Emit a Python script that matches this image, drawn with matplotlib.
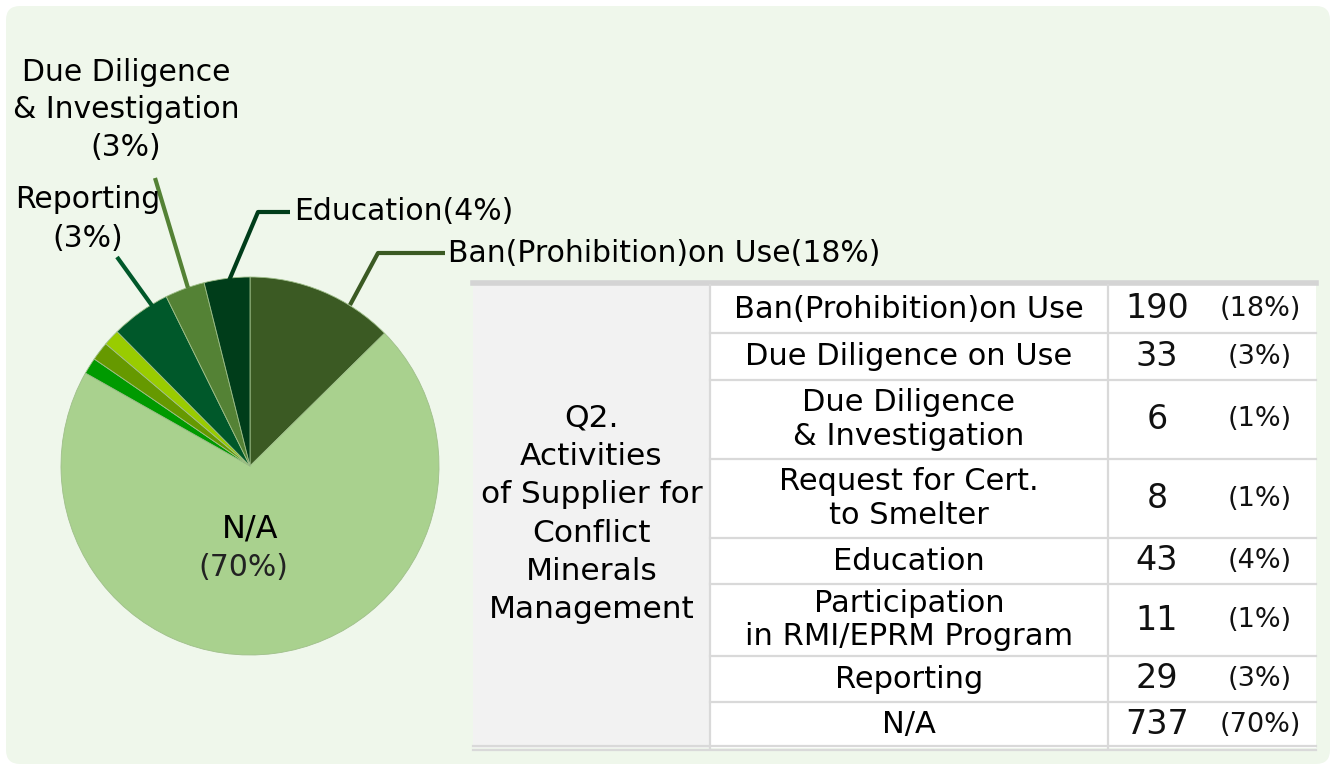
import matplotlib
matplotlib.use("Agg")
import matplotlib.pyplot as plt
from matplotlib.patches import FancyBboxPatch, Rectangle

plt.rcParams['font.family'] = ['DejaVu Sans']

# pie slices (clockwise from 12 o'clock)
pie_names = ["Ban", "N/A", "s1", "s2", "s3", "Reporting", "DD&I", "Education"]
pie_values = [12.6, 70.5, 1.4, 1.6, 1.4, 5.1, 3.4, 3.9]
pie_colors = ["#3b5a23", "#a9d18e", "#009a00", "#669900", "#99cc00",
              "#00582a", "#548235", "#003d1a"]

# table
table_items = ["Ban(Prohibition)on Use", "Due Diligence on Use",
               "Due Diligence\n& Investigation", "Request for Cert.\nto Smelter",
               "Education", "Participation\nin RMI/EPRM Program",
               "Reporting", "N/A"]
table_counts = [190, 33, 6, 8, 43, 11, 29, 737]
table_pcts = ["(18%)", "(3%)", "(1%)", "(1%)", "(4%)", "(1%)", "(3%)", "(70%)"]
question = "Q2.\nActivities\nof Supplier for\nConflict\nMinerals\nManagement"

W, H = 1335, 767
fig = plt.figure(figsize=(W / 100, H / 100), dpi=100)
fig.patch.set_facecolor("white")
ax = fig.add_axes([0, 0, 1, 1])


def Y(y):
    # image row -> data y
    return H - y


# rounded background panel
ax.add_patch(FancyBboxPatch((6, Y(764)), 1324, 758,
                            boxstyle="round,pad=0,rounding_size=14",
                            fc="#eff7eb", ec="none", zorder=0))

# pie
ax.pie(pie_values, colors=pie_colors, startangle=90, counterclock=False,
       center=(250, Y(466)), radius=189, frame=True,
       wedgeprops=dict(linewidth=0.6, edgecolor="#9fbf8a"))

ax.text(250, Y(529), "N/A", ha="center", va="center", fontsize=23, color="black")
ax.text(243, Y(567), "(70%)", ha="center", va="center", fontsize=21.5,
        color="#222222")

# leader lines + labels
lbl = 21.5
ax.plot([350, 378, 445], [Y(305), Y(253), Y(253)], color="#3b5a23", lw=3, solid_capstyle="butt")
ax.text(448, Y(253), "Ban(Prohibition)on Use(18%)", ha="left", va="center", fontsize=lbl)

ax.plot([228, 258, 290], [Y(283), Y(212), Y(212)], color="#003d1a", lw=3, solid_capstyle="butt")
ax.text(294, Y(212), "Education(4%)", ha="left", va="center", fontsize=lbl)

ax.plot([188, 155], [Y(288), Y(178)], color="#548235", lw=3, solid_capstyle="butt")
ax.text(126, Y(110), "Due Diligence\n& Investigation\n(3%)", ha="center", va="center",
        fontsize=lbl, linespacing=1.38)

ax.plot([153, 117], [Y(307), Y(257)], color="#00582a", lw=3, solid_capstyle="butt")
ax.text(88, Y(219), "Reporting\n(3%)", ha="center", va="center", fontsize=lbl,
        linespacing=1.4)

# table layout
x0, x1, x2, x3 = 473, 710, 1108, 1316
rows = [285, 333, 380, 459, 538, 584, 656, 702, 748]

ax.add_patch(Rectangle((x0, Y(rows[-1])), x1 - x0, rows[-1] - rows[0],
                       fc="#f2f2f2", ec="none", zorder=2))
ax.add_patch(Rectangle((x1, Y(rows[-1])), x3 - x1, rows[-1] - rows[0],
                       fc="white", ec="none", zorder=2))
ax.plot([x0, x3], [Y(283), Y(283)], color="#d4d4d4", lw=4, zorder=3)
for r in rows[1:-1]:
    ax.plot([x1, x3], [Y(r), Y(r)], color="#d9d9d9", lw=1.6, zorder=3)
ax.plot([x0, x3], [Y(746), Y(746)], color="#d9d9d9", lw=1.6, zorder=3)
ax.plot([x0, x3], [Y(750), Y(750)], color="#d9d9d9", lw=1.6, zorder=3)
for xc in (x1, x2):
    ax.plot([xc, xc], [Y(rows[0]), Y(rows[-1])], color="#d9d9d9", lw=1.6, zorder=3)

ax.text((x0 + x1) / 2, Y(514), question, ha="center", va="center", fontsize=22.5,
        linespacing=1.4, zorder=4)

for i, (item, cnt, pct) in enumerate(zip(table_items, table_counts, table_pcts)):
    yc = Y((rows[i] + rows[i + 1]) / 2)
    ax.text((x1 + x2) / 2, yc, item, ha="center", va="center", fontsize=22,
            linespacing=1.2, zorder=4)
    ax.text(1157, yc, str(cnt), ha="center", va="center", fontsize=24,
            color="#111111", zorder=4)
    ax.text(1260, yc, pct, ha="center", va="center", fontsize=19.5,
            color="#111111", zorder=4)

ax.set_xlim(0, W)
ax.set_ylim(0, H)
ax.set_aspect("equal")
ax.axis("off")

fig.savefig("out.png", dpi=100, facecolor="white")
